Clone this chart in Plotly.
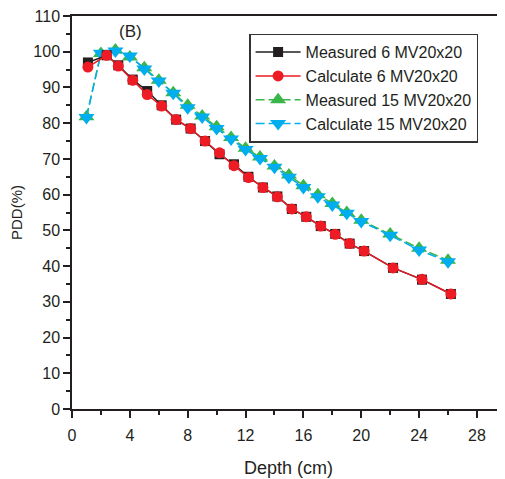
import plotly.graph_objects as go

# Depths (cm)
depth_6 = [1.1, 2.4, 3.2, 4.2, 5.2, 6.2, 7.2, 8.2, 9.2, 10.2, 11.2, 12.2, 13.2, 14.2,
           15.2, 16.2, 17.2, 18.2, 19.2, 20.2, 22.2, 24.2, 26.2]
depth_15 = [1, 2, 3, 4, 5, 6, 7, 8, 9, 10, 11, 12, 13, 14, 15, 16, 17, 18, 19, 20,
            22, 24, 26]

measured_6 = [97.0, 99.0, 96.2, 92.2, 89.0, 85.0, 81.0, 78.5, 75.0, 71.3, 68.5, 65.0,
              62.0, 59.5, 56.0, 53.8, 51.2, 49.0, 46.3, 44.2, 39.5, 36.2, 32.2]
calc_6 = [95.7, 99.0, 96.0, 92.0, 88.0, 84.8, 81.0, 78.5, 75.0, 71.7, 68.1, 64.8,
          62.0, 59.4, 56.0, 53.8, 51.2, 48.9, 46.3, 44.2, 39.5, 36.3, 32.2]
measured_15 = [81.8, 99.5, 100.5, 98.5, 95.5, 92.0, 88.5, 85.0, 82.0, 79.0, 76.0, 73.0,
               70.5, 68.0, 65.5, 62.5, 60.0, 57.5, 55.0, 52.8, 49.0, 45.0, 41.6]
calc_15 = [81.6, 99.6, 100.2, 98.8, 95.2, 91.8, 88.4, 84.3, 81.7, 78.5, 75.6, 72.6,
           70.1, 67.7, 64.9, 62.0, 59.4, 57.1, 54.8, 52.5, 48.6, 44.5, 41.2]

x_ticks = [0, 4, 8, 12, 16, 20, 24, 28]
y_ticks = list(range(0, 111, 10))

names = ["Measured 6 MV20x20", "Calculate 6 MV20x20",
         "Measured 15 MV20x20", "Calculate 15 MV20x20"]

BLACK = "#231f20"
RED = "#ed1c24"
GREEN = "#39b54a"
BLUE = "#00aeef"
FONT = "Liberation Sans, Arial, sans-serif"

fig = go.Figure()
# draw order: 15 MV first, then 6 MV on top
fig.add_trace(go.Scatter(x=depth_15, y=measured_15, name=names[2], mode="lines+markers",
                         line=dict(color=GREEN, width=1.5, dash="9px,4px"),
                         marker=dict(symbol="triangle-up", size=14, color=GREEN),
                         legendrank=3))
fig.add_trace(go.Scatter(x=depth_15, y=calc_15, name=names[3], mode="lines+markers",
                         line=dict(color=BLUE, width=1.5, dash="9px,4px"),
                         marker=dict(symbol="triangle-down", size=14, color=BLUE),
                         legendrank=4))
fig.add_trace(go.Scatter(x=depth_6, y=measured_6, name=names[0], mode="lines+markers",
                         line=dict(color=BLACK, width=1.5),
                         marker=dict(symbol="square", size=10, color=BLACK),
                         legendrank=1))
fig.add_trace(go.Scatter(x=depth_6, y=calc_6, name=names[1], mode="lines+markers",
                         line=dict(color=RED, width=1.5),
                         marker=dict(symbol="circle", size=11, color=RED),
                         legendrank=2))

fig.update_layout(
    width=497, height=471,
    margin=dict(l=64, r=0, t=7.5, b=70, autoexpand=False),
    paper_bgcolor="white", plot_bgcolor="white",
    font=dict(family=FONT, size=16, color=BLACK),
    showlegend=True,
    legend=dict(x=0.409, y=0.955, xanchor="left", yanchor="top",
                bordercolor="#333333", borderwidth=1.5, bgcolor="white",
                font=dict(size=16, family=FONT, color=BLACK),
                tracegroupgap=0, itemwidth=45),
    annotations=[dict(text="(B)", x=0.136, y=0.96, xref="paper", yref="paper",
                      xanchor="center", yanchor="middle",
                      showarrow=False, font=dict(size=17, family=FONT, color=BLACK))],
)
fig.update_xaxes(
    range=[0, 29.94], tickvals=x_ticks, ticktext=[str(v) for v in x_ticks],
    ticks="outside", ticklen=7, tickwidth=1.5, tickcolor=BLACK,
    minor=dict(dtick=2, tick0=0, ticks="outside", ticklen=4, tickwidth=1.5, tickcolor=BLACK),
    showline=True, linecolor=BLACK, linewidth=1.5, mirror=True,
    showgrid=False, zeroline=False,
    tickfont=dict(size=16), ticklabelstandoff=4, ticklabeloverflow="allow",
    title=dict(text="Depth (cm)", font=dict(size=18), standoff=18),
)
fig.update_yaxes(
    range=[0, 110], tickvals=y_ticks, ticktext=[str(v) for v in y_ticks],
    ticks="outside", ticklen=7, tickwidth=1.5, tickcolor=BLACK,
    minor=dict(dtick=5, tick0=0, ticks="outside", ticklen=4, tickwidth=1.5, tickcolor=BLACK),
    showline=True, linecolor=BLACK, linewidth=1.5,
    showgrid=False, zeroline=False,
    tickfont=dict(size=16), ticklabeloverflow="allow",
    title=dict(text="PDD(%)", font=dict(size=15), standoff=8),
)

fig.write_html("out.html")
